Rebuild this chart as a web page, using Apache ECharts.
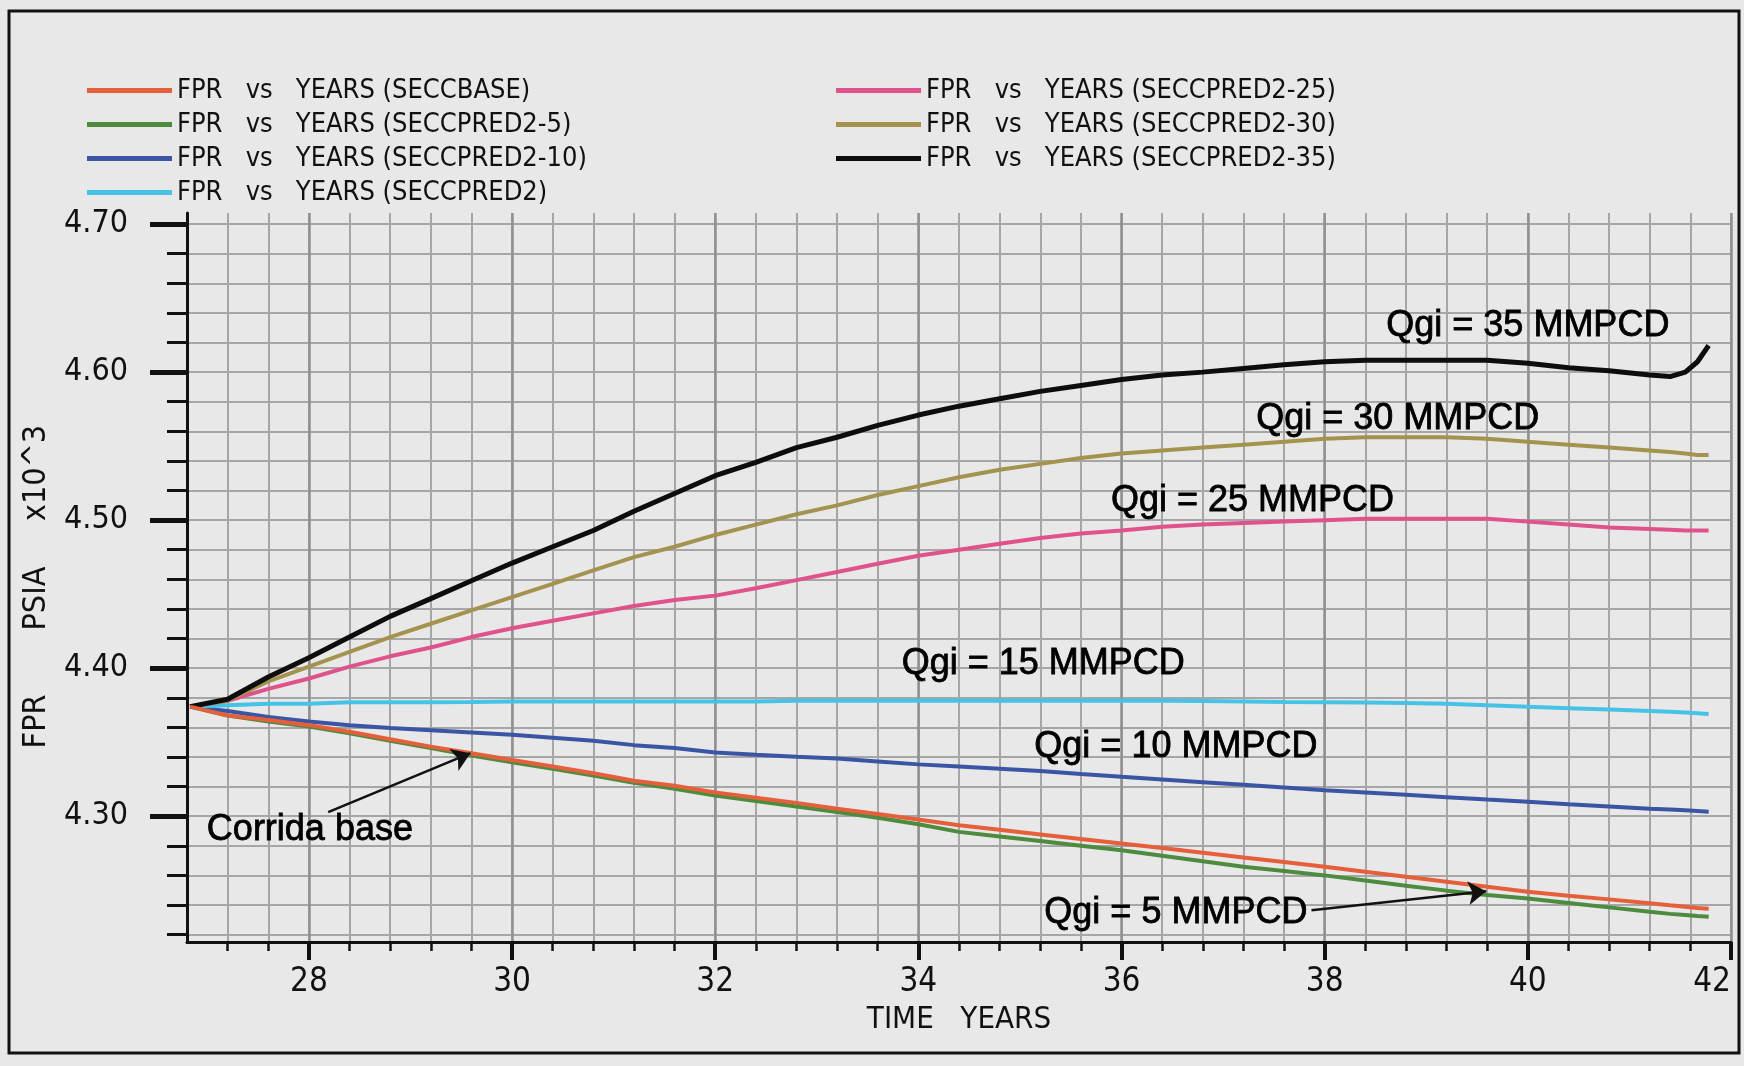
<!DOCTYPE html>
<html>
<head>
<meta charset="utf-8">
<script src="https://cdn.jsdelivr.net/npm/echarts@6/dist/echarts.min.js"></script>
<style>
  html, body { margin: 0; padding: 0; background: #e8e8e8; }
  #chart { width: 1744px; height: 1066px; }
</style>
</head>
<body>
<div id="chart"></div>
<script>
// Simulation time (years) shared by all runs
const years = [26.83, 27.2, 27.6, 28.0, 28.4, 28.8, 29.2, 29.6, 30.0, 30.4, 30.8, 31.2, 31.6,
  32.0, 32.4, 32.8, 33.2, 33.6, 34.0, 34.4, 34.8, 35.2, 35.6, 36.0, 36.4, 36.8, 37.2, 37.6,
  38.0, 38.4, 38.8, 39.2, 39.6, 40.0, 40.4, 40.8, 41.2, 41.4, 41.55, 41.67, 41.78];

// FPR (psia x 10^3) for each run
const fprBase = [4.374, 4.368, 4.365, 4.3615, 4.357, 4.352, 4.347, 4.3425, 4.338, 4.3335, 4.329,
  4.324, 4.3205, 4.316, 4.3125, 4.309, 4.305, 4.3015, 4.2978, 4.2939, 4.2908, 4.2877, 4.2846,
  4.2816, 4.2785, 4.2753, 4.2721, 4.269, 4.2658, 4.2625, 4.2591, 4.2557, 4.2523, 4.2489, 4.2463,
  4.2438, 4.2412, 4.2398, 4.2388, 4.238, 4.2375];
const fprPred5 = [4.374, 4.368, 4.364, 4.3605, 4.356, 4.351, 4.346, 4.341, 4.3365, 4.332, 4.3275,
  4.3225, 4.3185, 4.314, 4.3103, 4.3066, 4.3028, 4.299, 4.2945, 4.2894, 4.2863, 4.2832, 4.2801,
  4.277, 4.2733, 4.2695, 4.2658, 4.263, 4.260, 4.2565, 4.253, 4.2497, 4.2468, 4.2444, 4.2414,
  4.2384, 4.2354, 4.234, 4.2332, 4.2325, 4.232];
const fprPred10 = [4.374, 4.371, 4.367, 4.364, 4.3615, 4.3595, 4.358, 4.3565, 4.355, 4.353, 4.351,
  4.348, 4.346, 4.343, 4.3415, 4.3402, 4.339, 4.337, 4.335, 4.3335, 4.332, 4.3305, 4.3285,
  4.3266, 4.3248, 4.323, 4.3212, 4.3194, 4.3176, 4.316, 4.3144, 4.3128, 4.3112, 4.3097, 4.308,
  4.3065, 4.305, 4.3045, 4.304, 4.3035, 4.303];
const fprPred15 = [4.374, 4.375, 4.376, 4.376, 4.377, 4.377, 4.377, 4.3772, 4.3775, 4.3775, 4.3775,
  4.3775, 4.3775, 4.3775, 4.3775, 4.378, 4.378, 4.378, 4.378, 4.378, 4.378, 4.378, 4.378,
  4.378, 4.378, 4.3778, 4.3775, 4.3772, 4.377, 4.3768, 4.3765, 4.376, 4.375, 4.374, 4.373,
  4.372, 4.371, 4.3705, 4.370, 4.3695, 4.369];
const fprPred25 = [4.374, 4.378, 4.386, 4.393, 4.401, 4.408, 4.414, 4.421, 4.427, 4.432, 4.437,
  4.442, 4.446, 4.449, 4.454, 4.4595, 4.465, 4.4705, 4.476, 4.480, 4.484, 4.488, 4.491,
  4.493, 4.4955, 4.497, 4.498, 4.499, 4.500, 4.501, 4.501, 4.501, 4.501, 4.499, 4.497,
  4.495, 4.494, 4.4935, 4.493, 4.493, 4.493];
const fprPred30 = [4.374, 4.378, 4.391, 4.401, 4.411, 4.421, 4.430, 4.439, 4.448, 4.457, 4.466,
  4.475, 4.482, 4.490, 4.497, 4.504, 4.510, 4.517, 4.523, 4.529, 4.534, 4.538, 4.542,
  4.545, 4.547, 4.549, 4.551, 4.553, 4.555, 4.556, 4.556, 4.556, 4.555, 4.553, 4.551,
  4.549, 4.547, 4.546, 4.545, 4.544, 4.544];
const fprPred35 = [4.374, 4.379, 4.394, 4.407, 4.421, 4.435, 4.447, 4.459, 4.471, 4.482, 4.493,
  4.506, 4.518, 4.530, 4.539, 4.549, 4.556, 4.564, 4.571, 4.577, 4.582, 4.587, 4.591,
  4.595, 4.598, 4.600, 4.6025, 4.605, 4.607, 4.608, 4.608, 4.608, 4.608, 4.606, 4.603,
  4.601, 4.598, 4.597, 4.600, 4.607, 4.618];

// Axis ticks and labels
const xMajorTicks = [28, 30, 32, 34, 36, 38, 40, 42];
const yMajorTicks = [4.30, 4.40, 4.50, 4.60, 4.70];
const xMinorTicks = Array.from({ length: 38 }, (_, i) => +((272 + 4 * i) / 10).toFixed(1));
const yMinorTicks = Array.from({ length: 25 }, (_, i) => +((422 + 2 * i) / 100).toFixed(2));

const runNames = [
  'FPR   vs   YEARS (SECCBASE)',
  'FPR   vs   YEARS (SECCPRED2-5)',
  'FPR   vs   YEARS (SECCPRED2-10)',
  'FPR   vs   YEARS (SECCPRED2)',
  'FPR   vs   YEARS (SECCPRED2-25)',
  'FPR   vs   YEARS (SECCPRED2-30)',
  'FPR   vs   YEARS (SECCPRED2-35)'
];
const runValues = [fprBase, fprPred5, fprPred10, fprPred15, fprPred25, fprPred30, fprPred35];
const runColors = ['#e5603a', '#4d8b3f', '#3a55a4', '#45c3e6', '#e0528c', '#a3934f', '#0d0d0d'];
const runWidths = [4, 4, 4, 4, 4, 4, 5];
const runZ = [4, 3, 3, 3, 3, 3, 3];

const plotFont = "'DejaVu Sans Condensed', 'DejaVu Sans', sans-serif";
const noteFont = "'Liberation Sans', Arial, sans-serif";
const ink = '#111111';

const runSeries = runNames.map((name, k) => ({
  name: name,
  type: 'line',
  data: years.map((t, i) => [t, runValues[k][i]]),
  showSymbol: false,
  symbol: 'none',
  silent: true,
  z: runZ[k],
  itemStyle: { color: runColors[k] },
  lineStyle: { color: runColors[k], width: runWidths[k] }
}));

// Text notes and pointer arrows inside the plot
const notesSeries = {
  name: 'notes',
  type: 'scatter',
  silent: true,
  z: 6,
  symbol: 'circle',
  symbolSize: 1,
  itemStyle: { color: 'rgba(0,0,0,0)' },
  label: {
    show: true, position: 'inside', fontFamily: noteFont, fontSize: 36,
    color: '#000', opacity: 1, textBorderColor: '#000', textBorderWidth: 0.8
  },
  data: [
    { value: [40.0, 4.631], label: { formatter: 'Qgi = 35 MMPCD' } },
    { value: [38.72, 4.5682], label: { formatter: 'Qgi = 30 MMPCD' } },
    { value: [37.29, 4.5128], label: { formatter: 'Qgi = 25 MMPCD' } },
    { value: [35.23, 4.4027], label: { formatter: 'Qgi = 15 MMPCD' } },
    { value: [36.535, 4.3466], label: { formatter: 'Qgi = 10 MMPCD' } },
    { value: [36.535, 4.2345], label: { formatter: 'Qgi = 5 MMPCD' } },
    { value: [28.01, 4.2905], label: { formatter: 'Corrida base' } }
  ],
  markLine: {
    silent: true,
    animation: false,
    symbol: ['none', 'arrow'],
    symbolSize: 18,
    lineStyle: { type: 'solid', color: ink, width: 2.5 },
    label: { show: false },
    emphasis: { disabled: true },
    data: [
      [{ coord: [28.19, 4.3027] }, { coord: [29.59, 4.3426] }],
      [{ coord: [37.87, 4.2365] }, { coord: [39.59, 4.2493] }]
    ]
  }
};

const legendText = { fontFamily: plotFont, fontSize: 27, color: ink };

const option = {
  backgroundColor: '#e8e8e8',
  animation: false,
  graphic: [{
    type: 'rect',
    silent: true,
    z: -10,
    shape: { x: 9, y: 11, width: 1730, height: 1042 },
    style: { fill: 'none', stroke: ink, lineWidth: 3 }
  }],
  grid: { left: 187, right: 13, top: 213, bottom: 124, containLabel: false, outerBoundsMode: 'none' },
  legend: [
    {
      data: runNames.slice(0, 4),
      orient: 'vertical', left: 87, top: 77, padding: 0,
      icon: 'rect', itemWidth: 85, itemHeight: 5, itemGap: 7,
      selectedMode: false, textStyle: legendText
    },
    {
      data: runNames.slice(4),
      orient: 'vertical', left: 836, top: 77, padding: 0,
      icon: 'rect', itemWidth: 85, itemHeight: 5, itemGap: 7,
      selectedMode: false, textStyle: legendText
    }
  ],
  xAxis: [
    {
      type: 'value', min: 26.8, max: 42,
      axisLine: { show: true, onZero: false, lineStyle: { color: ink, width: 3 } },
      axisTick: { show: true, customValues: xMinorTicks, length: 9, lineStyle: { color: ink, width: 2.5 } },
      axisLabel: { show: false },
      splitLine: { show: true, lineStyle: { color: '#a6a6a6', width: 2 } }
    },
    {
      type: 'value', min: 26.8, max: 42, position: 'bottom',
      axisLine: { show: false },
      axisTick: { show: true, customValues: xMajorTicks, length: 18, lineStyle: { color: ink, width: 4 } },
      axisLabel: {
        show: true, customValues: xMajorTicks, margin: 24, alignMaxLabel: 'right',
        fontFamily: plotFont, fontSize: 33, color: ink
      },
      splitLine: { show: true, lineStyle: { color: '#909090', width: 2.5 } },
      name: 'TIME   YEARS', nameLocation: 'middle', nameGap: 62,
      nameTextStyle: { fontFamily: plotFont, fontSize: 31, color: ink }
    }
  ],
  yAxis: [
    {
      type: 'value', min: 4.215, max: 4.7075, position: 'left',
      axisLine: { show: true, onZero: false, lineStyle: { color: ink, width: 3 } },
      axisTick: { show: true, customValues: yMinorTicks, length: 20, lineStyle: { color: ink, width: 3 } },
      axisLabel: { show: false },
      splitLine: { show: true, lineStyle: { color: '#a6a6a6', width: 2 } }
    },
    {
      type: 'value', min: 4.215, max: 4.7075, position: 'left', offset: 0,
      axisLine: { show: false },
      axisTick: { show: true, customValues: yMajorTicks, length: 37, lineStyle: { color: ink, width: 5 } },
      axisLabel: {
        show: true, customValues: yMajorTicks, margin: 59,
        formatter: (v) => v.toFixed(2),
        fontFamily: plotFont, fontSize: 32, color: ink
      },
      splitLine: { show: false },
      name: 'FPR       PSIA     x10^3  ', nameLocation: 'middle', nameGap: 121, nameRotate: 90,
      nameTextStyle: { fontFamily: plotFont, fontSize: 32, color: ink }
    }
  ],
  series: runSeries.concat([notesSeries])
};

const chart = echarts.init(document.getElementById('chart'), null, { renderer: 'canvas' });
chart.setOption(option);
</script>
</body>
</html>
